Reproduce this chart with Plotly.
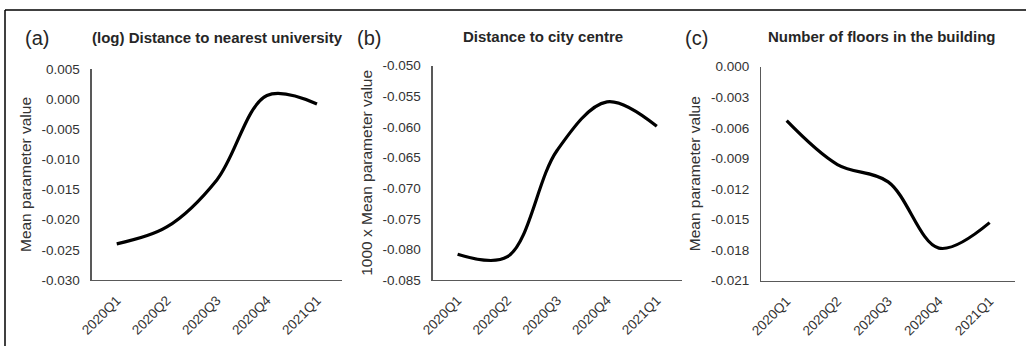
import plotly.graph_objects as go

quarters = ["2020Q1", "2020Q2", "2020Q3", "2020Q4", "2021Q1"]
univ_values = [-0.0240, -0.0212, -0.0134, 0.0006, -0.0008]
centre_values = [-0.0808, -0.0812, -0.0638, -0.0559, -0.0599]
floors_values = [-0.0053, -0.0096, -0.0113, -0.0178, -0.0153]

univ_ticks = [0.005, 0.0, -0.005, -0.010, -0.015, -0.020, -0.025, -0.030]
centre_ticks = [-0.050, -0.055, -0.060, -0.065, -0.070, -0.075, -0.080, -0.085]
floors_ticks = [0.000, -0.003, -0.006, -0.009, -0.012, -0.015, -0.018, -0.021]

titles = ["(log) Distance to nearest university", "Distance to city centre",
          "Number of floors in the building"]
panel_labels = ["(a)", "(b)", "(c)"]
ytitles = ["Mean parameter value", "1000 x Mean parameter value", "Mean parameter value"]

W, H = 1026, 346
FONT = "Liberation Sans, Arial, sans-serif"

def fx(px):
    return px / W

def fy(py):
    return 1 - py / H

# pixel boxes: (left, right, top, bottom)
boxes = [(91.7, 342.0, 69.0, 280.0), (432.7, 681.7, 65.7, 280.0), (761.3, 1015.0, 66.7, 280.7)]
series = [univ_values, centre_values, floors_values]
ticks = [univ_ticks, centre_ticks, floors_ticks]
title_pos = [(217, 37.5), (542.5, 37), (881, 37)]
label_pos = [(37, 38), (369, 38), (696, 38)]

fig = go.Figure()
annotations = []
for i in range(3):
    suffix = "" if i == 0 else str(i + 1)
    l, r, t, b = boxes[i]
    fig.add_trace(go.Scatter(
        x=quarters, y=series[i], mode="lines",
        line=dict(color="black", width=3.2, shape="spline", smoothing=1.0),
        xaxis="x" + suffix, yaxis="y" + suffix, showlegend=False, hoverinfo="skip"))
    tv = ticks[i]
    fig.layout["xaxis" + suffix] = dict(
        domain=[fx(l), fx(r)], anchor="y" + suffix, type="category", automargin=False,
        range=[-0.5, 4.5], showline=True, linecolor="#595959", linewidth=1.3,
        showgrid=False, zeroline=False, ticks="", tickangle=-45, ticklabelstandoff=6,
        tickfont=dict(family=FONT, size=13.5, color="#333333"))
    fig.layout["yaxis" + suffix] = dict(
        domain=[fy(b), fy(t)], anchor="x" + suffix, automargin=False,
        range=[min(tv), max(tv)], showline=True, linecolor="#595959", linewidth=1.3,
        showgrid=False, zeroline=False, ticks="",
        tickvals=tv, ticktext=[f"{v:.3f}" for v in tv], ticklabelstandoff=8,
        tickfont=dict(family=FONT, size=13.5, color="#333333"),
        title=dict(text=ytitles[i], font=dict(family=FONT, size=15.5, color="#333333"),
                   standoff=6))
    annotations.append(dict(text="<b>" + titles[i] + "</b>", x=fx(title_pos[i][0]),
                            y=fy(title_pos[i][1]), xref="paper", yref="paper",
                            showarrow=False, xanchor="center", yanchor="middle",
                            font=dict(family=FONT, size=15, color="#262626")))
    annotations.append(dict(text=panel_labels[i], x=fx(label_pos[i][0]),
                            y=fy(label_pos[i][1]), xref="paper", yref="paper",
                            showarrow=False, xanchor="center", yanchor="middle",
                            font=dict(family=FONT, size=20, color="#262626")))

fig.update_layout(
    template="none",
    width=W, height=H, margin=dict(l=0, r=0, t=0, b=0, pad=0, autoexpand=False),
    paper_bgcolor="white", plot_bgcolor="white",
    annotations=annotations,
    shapes=[
        dict(type="line", xref="paper", yref="paper", x0=fx(5), x1=1, y0=fy(10), y1=fy(10),
             line=dict(color="black", width=1.5)),
        dict(type="line", xref="paper", yref="paper", x0=fx(5), x1=fx(5), y0=fy(10), y1=0,
             line=dict(color="black", width=1.5)),
    ],
)

fig.write_html("out.html", config={"displayModeBar": False, "staticPlot": True},
               post_script="document.body.style.margin='0';document.body.style.overflow='hidden';")
